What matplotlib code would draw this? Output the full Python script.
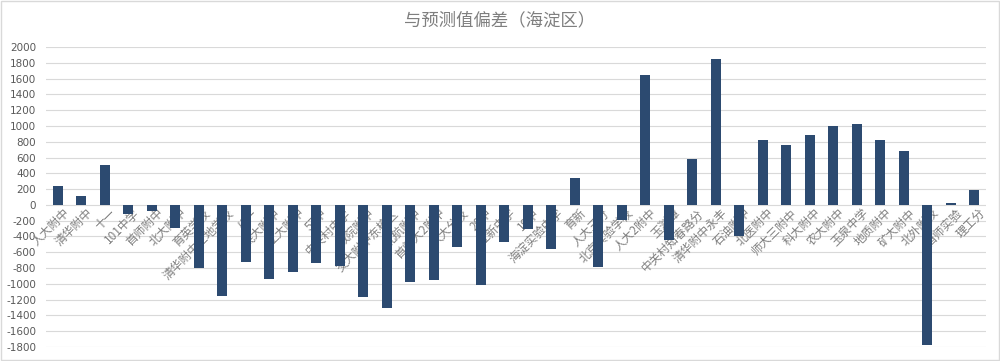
import matplotlib
matplotlib.use("Agg")
import matplotlib.pyplot as plt
from matplotlib.patches import Rectangle

plt.rcParams['font.family'] = ['Noto Sans CJK SC', 'DejaVu Sans']

schools = [
    "人大附中", "清华附中", "十一", "101中学", "首师附中", "北大附中", "育英学校",
    "清华附中上地学校", "八一", "民大附中", "工大附中", "57中", "中关村中学",
    "教院附中", "交大附中东校区", "北航附中", "首师大2附中", "人大分校", "20中",
    "立新中学", "19中", "海淀实验中学", "育新", "人大三分", "北京实验学校",
    "人大2附中", "玉渊潭", "中关村知春路分", "清华附中永丰", "石油附中",
    "北医附中", "师大三附中", "科大附中", "农大附中", "玉泉中学", "地质附中",
    "矿大附中", "北外附校", "首师实验", "理工分",
]
deviation = [
    240, 115, 510, -115, -80, -290, -800,
    -1150, -725, -940, -845, -730, -775,
    -1165, -1310, -975, -950, -530, -1020,
    -470, -300, -560, 340, -790, -190,
    1640, -450, 580, 1850, -400,
    820, 760, 890, 1000, 1020, 820,
    680, -1770, 25, 190,
]
y_ticks = list(range(-1800, 2001, 200))

fig = plt.figure(figsize=(10, 3.61), dpi=100)
ax = fig.add_axes([0.046, 1 - 347 / 361, 0.94, 300 / 361])

x = list(range(len(schools)))
ax.bar(x, deviation, width=0.43, color="#2c4a70", zorder=3)

ax.set_xlim(-0.5, len(schools) - 0.5)
ax.set_ylim(-1800, 2000)
ax.set_yticks(y_ticks)
ax.set_yticklabels([str(v) for v in y_ticks], fontsize=7.5, color="#595959",
                   family="DejaVu Sans")
ax.tick_params(axis="y", length=0, pad=7)
ax.set_xticks([])
ax.grid(axis="y", color="#d9d9d9", linewidth=0.8, zorder=0)
ax.set_axisbelow(True)
for s in ax.spines.values():
    s.set_visible(False)

# category labels sit on the zero line, tucked underneath the bars
for xi, name in zip(x, schools):
    ax.text(xi + 0.2, -20, name, rotation=45, rotation_mode="anchor",
            ha="right", va="top", fontsize=8.5, color="#7f7f7f", zorder=1)

fig.text(0.5, 1 - 20 / 361, "与预测值偏差（海淀区）", ha="center", va="center",
         fontsize=12.5, color="#7f7f7f")

fig.patches.append(Rectangle((0.001, 0.002), 0.998, 0.996, transform=fig.transFigure,
                             fill=False, edgecolor="#d9d9d9", linewidth=1))

fig.savefig("out.png", dpi=100, facecolor="white")
